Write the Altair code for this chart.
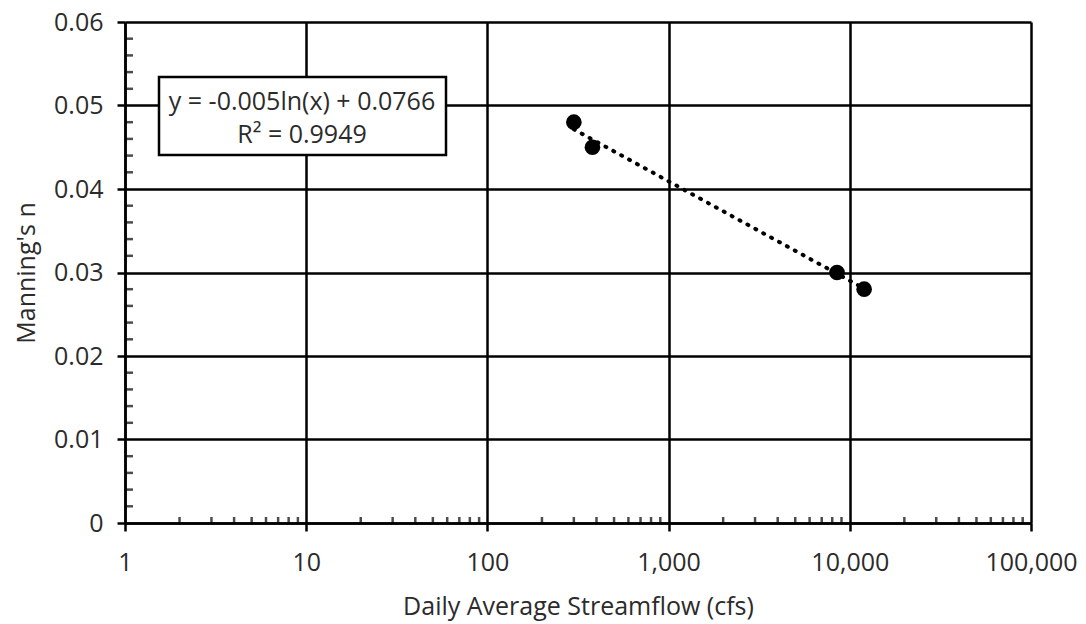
import altair as alt
import pandas as pd

# Observed roughness vs. streamflow
flow_cfs = [300, 380, 8500, 12000]
mannings_n = [0.048, 0.045, 0.030, 0.028]

# Axis ticks
x_major = [1, 10, 100, 1000, 10000, 100000]
y_major = [0, 0.01, 0.02, 0.03, 0.04, 0.05, 0.06]
decades = [1, 10, 100, 1000, 10000]
x_minor = [m * d for d in decades for m in range(2, 10)]
y_minor = [round(i * 0.002, 3) for i in range(31) if i % 5 != 0]

# Trendline label
fit_label = ["y = -0.005ln(x) + 0.0766", "R² = 0.9949"]

W, H = 906, 501
FONT = "Open Sans"
INK = "#2b2b2b"

points = pd.DataFrame({"flow": flow_cfs, "n": mannings_n})

x_scale = alt.Scale(type="log", domain=[1, 100000], nice=False)
y_scale = alt.Scale(domain=[0, 0.06], nice=False, zero=False)

x_axis = alt.Axis(values=x_major, format=",", title="Daily Average Streamflow (cfs)",
                  labelPadding=19, titlePadding=19)
y_axis = alt.Axis(values=y_major, format=".2~f", title="Manning's n",
                  labelPadding=14, titlePadding=14)

X = alt.X("flow:Q", scale=x_scale, axis=x_axis)
Y = alt.Y("n:Q", scale=y_scale, axis=y_axis)

trend = (
    alt.Chart(points)
    .transform_regression("flow", "n", method="log")
    .mark_line(color="black", strokeWidth=4, strokeDash=[1, 8], strokeCap="round")
    .encode(x=X, y=Y)
)

dots = (
    alt.Chart(points)
    .mark_point(filled=True, color="black", size=245, opacity=1, shape="circle")
    .encode(x=X, y=Y)
)

x_minor_ticks = (
    alt.Chart(pd.DataFrame({"flow": x_minor}))
    .mark_tick(color="black", thickness=2.5, size=6, orient="vertical")
    .encode(x=X, y=alt.value(H - 3))
)

y_minor_ticks = (
    alt.Chart(pd.DataFrame({"n": y_minor}))
    .mark_tick(color="black", thickness=2.5, size=8, orient="horizontal")
    .encode(y=Y, x=alt.value(4))
)

one = pd.DataFrame({"k": [0]})

label_box = (
    alt.Chart(one)
    .mark_rect(fill="white", stroke="black", strokeWidth=2.5)
    .encode(x=alt.value(34), x2=alt.value(321), y=alt.value(55), y2=alt.value(133))
)

label_text = (
    alt.Chart(one)
    .mark_text(text=fit_label, font=FONT, fontSize=25, color=INK,
               align="center", baseline="middle", lineHeight=33)
    .encode(x=alt.value(177), y=alt.value(80))
)

chart = (
    alt.layer(trend, dots, x_minor_ticks, y_minor_ticks, label_box, label_text)
    .properties(
        width=W,
        height=H,
        autosize=alt.AutoSizeParams(type="none"),
        padding={"left": 125, "top": 22, "right": 55, "bottom": 101},
        background="white",
    )
    .configure_view(strokeWidth=0)
    .configure_axis(
        grid=True,
        gridColor="black",
        gridWidth=2.5,
        gridOpacity=1,
        domainColor="black",
        domainWidth=2.5,
        tickColor="black",
        tickWidth=2.5,
        tickSize=8,
        labelFont=FONT,
        labelFontSize=25,
        labelColor=INK,
        labelFlush=False,
        labelOverlap=False,
        titleFont=FONT,
        titleFontSize=25,
        titleFontWeight="normal",
        titleColor=INK,
    )
)

chart.save("out.html", embed_options={"renderer": "svg", "actions": False})
